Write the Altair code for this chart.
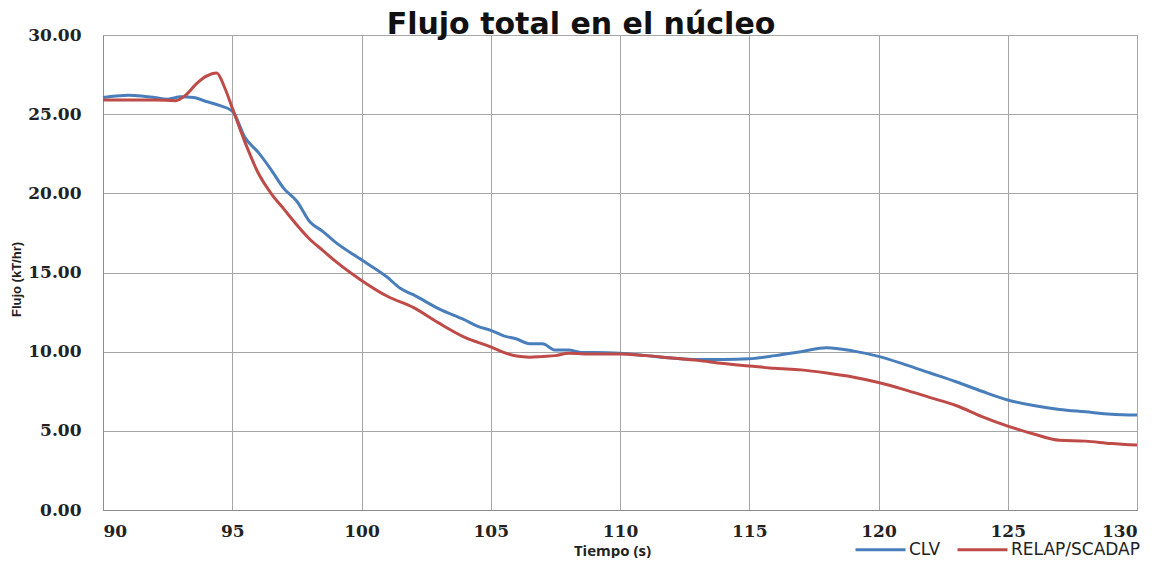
import altair as alt
import pandas as pd

# CLV series
t_clv = [90, 90.5, 91, 91.5, 92, 92.5, 93, 93.5, 94, 94.5,
         95, 95.5, 96, 96.5, 97, 97.5, 98, 98.5, 99, 100,
         101, 101.5, 102, 103, 104, 104.5, 105, 105.5, 106, 106.5,
         107, 107.5, 108, 108.5, 109, 110, 111, 112, 113, 114,
         115, 116, 117, 118, 119, 120, 121, 122, 123, 124, 125, 126, 127, 128, 129, 130]
clv = [26.05, 26.15, 26.2, 26.15, 26.05, 25.95, 26.1, 26.05, 25.8, 25.55,
       25.2, 23.5, 22.6, 21.5, 20.3, 19.5, 18.2, 17.6, 16.9, 15.8,
       14.7, 14.0, 13.6, 12.7, 12.0, 11.6, 11.35, 11.0, 10.8, 10.5,
       10.5, 10.1, 10.1, 9.95, 9.95, 9.9, 9.75, 9.6, 9.5, 9.5,
       9.55, 9.75, 10.0, 10.25, 10.05, 9.7, 9.2, 8.65, 8.1, 7.5, 6.95, 6.6, 6.35, 6.2, 6.05, 6.0]

# RELAP/SCADAP series
t_rel = [90, 91, 92, 92.8, 93.2, 93.6, 94, 94.4, 94.7, 95,
         95.5, 96, 96.5, 97, 97.5, 98, 98.5, 99, 100, 101,
         102, 103, 104, 105, 105.5, 106, 106.5, 107, 107.5, 108,
         109, 110, 111, 112, 113, 114, 115, 116, 117, 118, 119, 120,
         121, 122, 123, 124, 125, 126, 127, 128, 129, 130]
rel = [25.9, 25.9, 25.9, 25.85, 26.2, 26.9, 27.4, 27.6, 26.7, 25.4,
       23.2, 21.3, 20.0, 19.0, 18.0, 17.1, 16.4, 15.7, 14.5, 13.5,
       12.8, 11.8, 10.9, 10.3, 9.95, 9.72, 9.65, 9.7, 9.75, 9.9,
       9.85, 9.85, 9.75, 9.6, 9.45, 9.25, 9.1, 8.95, 8.85, 8.65, 8.4, 8.05,
       7.6, 7.1, 6.6, 5.9, 5.3, 4.8, 4.4, 4.35, 4.2, 4.1]

series_names = ["CLV", "RELAP/SCADAP"]
series_colors = ["#4a7ebb", "#be4b48"]
x_ticks = [90, 95, 100, 105, 110, 115, 120, 125, 130]
y_ticks = [0, 5, 10, 15, 20, 25, 30]

df = pd.concat([
    pd.DataFrame({"t": t_clv, "f": clv, "s": series_names[0]}),
    pd.DataFrame({"t": t_rel, "f": rel, "s": series_names[1]}),
])

tick_font = "DejaVu Serif"

chart = alt.Chart(df).mark_line(strokeWidth=3, interpolate="monotone").encode(
    x=alt.X("t:Q",
            scale=alt.Scale(domain=[90, 130], nice=False, zero=False),
            axis=alt.Axis(values=x_ticks, title="Tiempo (s)", format="d",
                          grid=True, gridColor="#a6a6a6", gridWidth=1,
                          domainColor="#8c8c8c", ticks=False,
                          labelFont=tick_font, labelFontWeight="bold", labelFontSize=17,
                          labelColor="#222", labelPadding=13,
                          titleFont="Open Sans", titleFontWeight="bold", titleFontSize=15,
                          titleColor="#222", titleBaseline="top", titleX=509, titleY=33)),
    y=alt.Y("f:Q",
            scale=alt.Scale(domain=[0, 30], nice=False),
            axis=alt.Axis(values=y_ticks, title="Flujo (kT/hr)", format=".2f",
                          grid=True, gridColor="#a6a6a6", gridWidth=1,
                          domainColor="#8c8c8c", ticks=False,
                          labelFont=tick_font, labelFontWeight="bold", labelFontSize=17,
                          labelColor="#222", labelPadding=22,
                          titleFont="Liberation Sans", titleFontWeight="bold", titleFontSize=13,
                          titleColor="#222", titleX=-80, titleY=244)),
    color=alt.Color("s:N",
                    scale=alt.Scale(domain=series_names, range=series_colors),
                    legend=alt.Legend(title=None, orient="none", legendX=751, legendY=488,
                                      direction="horizontal", symbolType="stroke",
                                      symbolSize=2500, symbolStrokeWidth=3,
                                      labelFont="DejaVu Sans", labelFontSize=17, labelColor="#222",
                                      labelOffset=2, columnPadding=10)),
).properties(
    width=1034,
    height=475,
    padding={"left": 95, "top": 27, "right": 22, "bottom": 48},
    autosize=alt.AutoSizeParams(type="none"),
    title=alt.TitleParams("Flujo total en el núcleo", font="DejaVu Sans", fontWeight="bold",
                          fontSize=30, color="#111", anchor="middle", dx=-39, offset=-14),
).configure_view(stroke="#a6a6a6")

chart.save("out.html", embed_options={"renderer": "svg", "actions": False})
